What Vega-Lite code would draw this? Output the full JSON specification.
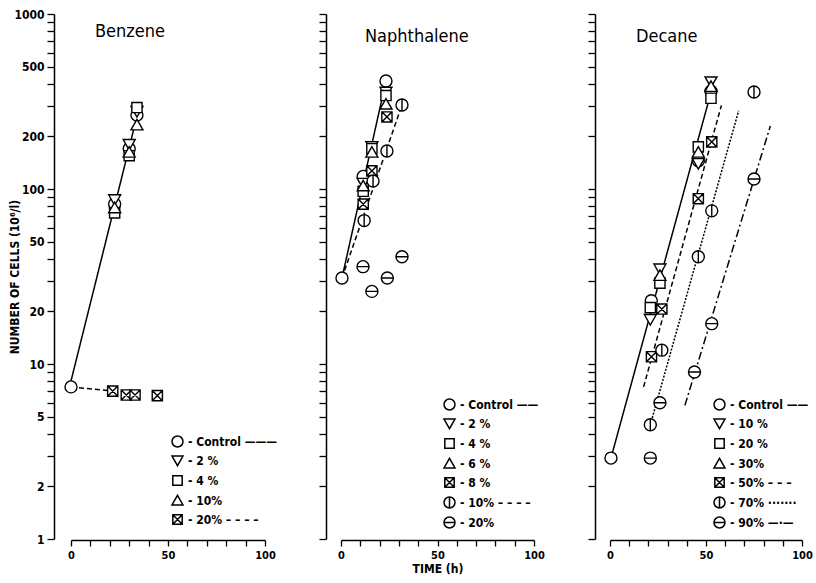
{
  "$schema": "https://vega.github.io/schema/vega-lite/v6.json",
  "background": "white",
  "padding": {"left": 8, "top": 8, "right": 3, "bottom": 5},
  "datasets": {
    "points": [
      {"panel": "Benzene", "series": "Control", "t": 0, "n": 7.4},
      {"panel": "Benzene", "series": "Control", "t": 22.5, "n": 82},
      {"panel": "Benzene", "series": "Control", "t": 30, "n": 170},
      {"panel": "Benzene", "series": "Control", "t": 34, "n": 265},
      {"panel": "Benzene", "series": "2 %", "t": 22.5, "n": 87},
      {"panel": "Benzene", "series": "2 %", "t": 30, "n": 180},
      {"panel": "Benzene", "series": "2 %", "t": 34, "n": 278},
      {"panel": "Benzene", "series": "4 %", "t": 22.5, "n": 73},
      {"panel": "Benzene", "series": "4 %", "t": 30, "n": 155},
      {"panel": "Benzene", "series": "4 %", "t": 34, "n": 292},
      {"panel": "Benzene", "series": "10%", "t": 22.5, "n": 78},
      {"panel": "Benzene", "series": "10%", "t": 30, "n": 162},
      {"panel": "Benzene", "series": "10%", "t": 34, "n": 232},
      {"panel": "Benzene", "series": "20%", "t": 21.5, "n": 7.0},
      {"panel": "Benzene", "series": "20%", "t": 28.5, "n": 6.65},
      {"panel": "Benzene", "series": "20%", "t": 33, "n": 6.65},
      {"panel": "Benzene", "series": "20%", "t": 44.5, "n": 6.6},

      {"panel": "Naphthalene", "series": "Control", "t": 0.5, "n": 31},
      {"panel": "Naphthalene", "series": "Control", "t": 11.5, "n": 118},
      {"panel": "Naphthalene", "series": "Control", "t": 23.3, "n": 414},
      {"panel": "Naphthalene", "series": "2 %", "t": 11.5, "n": 108},
      {"panel": "Naphthalene", "series": "2 %", "t": 16, "n": 175},
      {"panel": "Naphthalene", "series": "2 %", "t": 23.3, "n": 358},
      {"panel": "Naphthalene", "series": "4 %", "t": 11.5, "n": 97},
      {"panel": "Naphthalene", "series": "4 %", "t": 16, "n": 170},
      {"panel": "Naphthalene", "series": "4 %", "t": 23.3, "n": 342},
      {"panel": "Naphthalene", "series": "6 %", "t": 11.5, "n": 104},
      {"panel": "Naphthalene", "series": "6 %", "t": 16, "n": 162},
      {"panel": "Naphthalene", "series": "6 %", "t": 23.3, "n": 305},
      {"panel": "Naphthalene", "series": "8 %", "t": 11.5, "n": 82},
      {"panel": "Naphthalene", "series": "8 %", "t": 16, "n": 127},
      {"panel": "Naphthalene", "series": "8 %", "t": 23.8, "n": 258},
      {"panel": "Naphthalene", "series": "10%", "t": 12, "n": 66},
      {"panel": "Naphthalene", "series": "10%", "t": 16.6, "n": 111},
      {"panel": "Naphthalene", "series": "10%", "t": 23.8, "n": 165},
      {"panel": "Naphthalene", "series": "10%", "t": 31.6, "n": 302},
      {"panel": "Naphthalene", "series": "20%", "t": 11.4, "n": 36},
      {"panel": "Naphthalene", "series": "20%", "t": 16, "n": 26},
      {"panel": "Naphthalene", "series": "20%", "t": 24, "n": 31},
      {"panel": "Naphthalene", "series": "20%", "t": 31.6, "n": 41},

      {"panel": "Decane", "series": "Control", "t": 0.5, "n": 2.9},
      {"panel": "Decane", "series": "Control", "t": 21.5, "n": 23},
      {"panel": "Decane", "series": "Control", "t": 46, "n": 145},
      {"panel": "Decane", "series": "Control", "t": 52.6, "n": 362},
      {"panel": "Decane", "series": "10 %", "t": 21, "n": 18},
      {"panel": "Decane", "series": "10 %", "t": 26, "n": 35},
      {"panel": "Decane", "series": "10 %", "t": 46, "n": 140},
      {"panel": "Decane", "series": "10 %", "t": 52.6, "n": 410},
      {"panel": "Decane", "series": "20 %", "t": 21, "n": 21},
      {"panel": "Decane", "series": "20 %", "t": 26, "n": 29},
      {"panel": "Decane", "series": "20 %", "t": 46, "n": 174},
      {"panel": "Decane", "series": "20 %", "t": 52.6, "n": 330},
      {"panel": "Decane", "series": "30%", "t": 26, "n": 32},
      {"panel": "Decane", "series": "30%", "t": 46, "n": 162},
      {"panel": "Decane", "series": "30%", "t": 52.6, "n": 385},
      {"panel": "Decane", "series": "50%", "t": 21.6, "n": 11},
      {"panel": "Decane", "series": "50%", "t": 27, "n": 20.6},
      {"panel": "Decane", "series": "50%", "t": 46, "n": 88},
      {"panel": "Decane", "series": "50%", "t": 53, "n": 186},
      {"panel": "Decane", "series": "70%", "t": 21, "n": 4.5},
      {"panel": "Decane", "series": "70%", "t": 27, "n": 12},
      {"panel": "Decane", "series": "70%", "t": 46, "n": 41},
      {"panel": "Decane", "series": "70%", "t": 53, "n": 75},
      {"panel": "Decane", "series": "70%", "t": 75, "n": 358},
      {"panel": "Decane", "series": "90%", "t": 21, "n": 2.9},
      {"panel": "Decane", "series": "90%", "t": 26, "n": 6},
      {"panel": "Decane", "series": "90%", "t": 44, "n": 9},
      {"panel": "Decane", "series": "90%", "t": 53, "n": 17},
      {"panel": "Decane", "series": "90%", "t": 75, "n": 114}
    ],
    "lines": [
      {"panel": "Benzene", "series": "Control", "t": 0, "n": 8.0},
      {"panel": "Benzene", "series": "Control", "t": 34, "n": 260},
      {"panel": "Benzene", "series": "20%", "t": 0, "n": 7.4},
      {"panel": "Benzene", "series": "20%", "t": 21.5, "n": 7.0},
      {"panel": "Naphthalene", "series": "Control", "t": 0.5, "n": 31},
      {"panel": "Naphthalene", "series": "Control", "t": 23.3, "n": 414},
      {"panel": "Naphthalene", "series": "10%", "t": 0.5, "n": 31},
      {"panel": "Naphthalene", "series": "10%", "t": 31.6, "n": 302},
      {"panel": "Decane", "series": "Control", "t": 0.5, "n": 2.9},
      {"panel": "Decane", "series": "Control", "t": 53, "n": 370},
      {"panel": "Decane", "series": "50%", "t": 17.5, "n": 7.4},
      {"panel": "Decane", "series": "50%", "t": 58, "n": 300},
      {"panel": "Decane", "series": "70%", "t": 21, "n": 4.5},
      {"panel": "Decane", "series": "70%", "t": 67, "n": 280},
      {"panel": "Decane", "series": "90%", "t": 39, "n": 5.8},
      {"panel": "Decane", "series": "90%", "t": 83.5, "n": 229}
    ]
  },
  "spacing": 76,
  "bounds": "flush",
  "config": {
    "view": {"stroke": null},
    "font": "DejaVu Sans Condensed, Liberation Sans Narrow, DejaVu Sans, sans-serif",
    "axis": {
      "grid": false,
      "domainColor": "black",
      "domainWidth": 1.5,
      "tickColor": "black",
      "tickWidth": 1.3,
      "labelColor": "black",
      "labelFontWeight": "bold",
      "labelFontSize": 12,
      "labelOverlap": false,
      "labelFlush": false,
      "titleColor": "black",
      "titleFontWeight": "bold",
      "titleFontSize": 12
    },
    "legend": {
      "orient": "none",
      "title": null,
      "symbolSize": 121,
      "labelFontSize": 12,
      "labelFontWeight": "bold",
      "labelColor": "black",
      "rowPadding": 3,
      "labelOffset": 4,
      "padding": 0
    },
    "title": {"fontSize": 18, "fontWeight": "normal", "color": "black", "anchor": "start", "frame": "group"}
  },
  "resolve": {
    "scale": {"shape": "independent", "strokeDash": "independent", "x": "independent", "y": "independent"},
    "legend": {"shape": "independent", "strokeDash": "independent"}
  },
  "hconcat": [
    {
      "width": 194,
      "height": 525,
      "title": {"text": "Benzene", "dx": 24, "offset": -33},
      "encoding": {
        "x": {"field": "t", "type": "quantitative", "scale": {"domain": [0, 100], "nice": false},
          "axis": {"values": [0, 10, 20, 30, 40, 50, 60, 70, 80, 90, 100], "labelExpr": "datum.value == 0 || datum.value == 50 || datum.value == 100 ? datum.label : ''", "tickSize": 6, "title": null, "offset": 1, "labelPadding": 3, "labelFontSize": 11}},
        "y": {"field": "n", "type": "quantitative", "scale": {"type": "log", "domain": [1, 1000], "nice": false},
          "axis": {"values": [1, 2, 3, 4, 5, 6, 7, 8, 9, 10, 20, 30, 40, 50, 60, 70, 80, 90, 100, 200, 300, 400, 500, 600, 700, 800, 900, 1000], "format": "d", "labelExpr": "indexof([1, 2, 5, 10, 20, 50, 100, 200, 500, 1000], datum.value) >= 0 ? datum.label : ''", "tickSize": 7, "offset": 17, "labelPadding": 3, "title": "NUMBER OF CELLS (10⁶/l)", "titlePadding": -8}}
      },
      "layer": [
        {
          "data": {"name": "lines"},
          "transform": [{"filter": "datum.panel == 'Benzene'"}],
          "mark": {"type": "line", "color": "black", "strokeWidth": 1.5},
          "encoding": {
            "detail": {"field": "series"},
            "strokeDash": {"field": "series", "scale": {"domain": ["Control", "20%"], "range": [[1, 0], [5, 3]]}, "legend": null}
          }
        },
        {
          "data": {"name": "points"},
          "transform": [{"filter": "datum.panel == 'Benzene'"}],
          "mark": {"type": "point", "filled": true, "fill": "white", "stroke": "black", "strokeWidth": 1.4, "size": 144, "opacity": 1},
          "encoding": {
            "shape": {"field": "series", "scale": {"domain": ["Control", "2 %", "4 %", "10%", "20%"], "range": [
              "M1,0A1,1,0,1,1,-1,0A1,1,0,1,1,1,0Z",
              "M-1,-0.8L1,-0.8L0,0.95Z",
              "M-0.85,-0.85L0.85,-0.85L0.85,0.85L-0.85,0.85Z",
              "M-1,0.8L1,0.8L0,-0.95Z",
              "M-0.85,-0.85L0.85,-0.85L0.85,0.85L-0.85,0.85ZM-0.85,-0.85L0.85,0.85M0.85,-0.85L-0.85,0.85"]},
              "legend": {"legendX": 100, "legendY": 421,
                "labelExpr": "'- ' + datum.label + (datum.label == 'Control' ? '  ———' : datum.label == '20%' ? '   – – – –' : '')",
                "encode": {"symbols": {"update": {"fill": {"value": "white"}, "stroke": {"value": "black"}, "strokeWidth": {"value": 1.4}, "opacity": {"value": 1}}}}}}
          }
        }
      ]
    },
    {
      "width": 193,
      "height": 525,
      "title": {"text": "Naphthalene", "dx": 24, "offset": -33},
      "encoding": {
        "x": {"field": "t", "type": "quantitative", "scale": {"domain": [0, 100], "nice": false},
          "axis": {"values": [0, 10, 20, 30, 40, 50, 60, 70, 80, 90, 100], "labelExpr": "datum.value == 0 || datum.value == 50 || datum.value == 100 ? datum.label : ''", "tickSize": 6, "title": "TIME (h)", "titlePadding": 3, "offset": 1, "labelPadding": 3, "labelFontSize": 11}},
        "y": {"field": "n", "type": "quantitative", "scale": {"type": "log", "domain": [1, 1000], "nice": false},
          "axis": {"values": [1, 2, 3, 4, 5, 6, 7, 8, 9, 10, 20, 30, 40, 50, 60, 70, 80, 90, 100, 200, 300, 400, 500, 600, 700, 800, 900, 1000], "labels": false, "tickSize": 7, "offset": 15, "title": null}}
      },
      "layer": [
        {
          "data": {"name": "lines"},
          "transform": [{"filter": "datum.panel == 'Naphthalene'"}],
          "mark": {"type": "line", "color": "black", "strokeWidth": 1.5},
          "encoding": {
            "detail": {"field": "series"},
            "strokeDash": {"field": "series", "scale": {"domain": ["Control", "10%"], "range": [[1, 0], [5, 3]]}, "legend": null}
          }
        },
        {
          "data": {"name": "points"},
          "transform": [{"filter": "datum.panel == 'Naphthalene'"}],
          "mark": {"type": "point", "filled": true, "fill": "white", "stroke": "black", "strokeWidth": 1.4, "size": 144, "opacity": 1},
          "encoding": {
            "shape": {"field": "series", "scale": {"domain": ["Control", "2 %", "4 %", "6 %", "8 %", "10%", "20%"], "range": [
              "M1,0A1,1,0,1,1,-1,0A1,1,0,1,1,1,0Z",
              "M-1,-0.8L1,-0.8L0,0.95Z",
              "M-0.85,-0.85L0.85,-0.85L0.85,0.85L-0.85,0.85Z",
              "M-1,0.8L1,0.8L0,-0.95Z",
              "M-0.85,-0.85L0.85,-0.85L0.85,0.85L-0.85,0.85ZM-0.85,-0.85L0.85,0.85M0.85,-0.85L-0.85,0.85",
              "M1,0A1,1,0,1,1,-1,0A1,1,0,1,1,1,0ZM0,-1L0,1",
              "M1,0A1,1,0,1,1,-1,0A1,1,0,1,1,1,0ZM-1,0L1,0"]},
              "legend": {"legendX": 102, "legendY": 384,
                "labelExpr": "'- ' + datum.label + (datum.label == 'Control' ? '  ——' : datum.label == '10%' ? '    – – – –' : '')",
                "encode": {"symbols": {"update": {"fill": {"value": "white"}, "stroke": {"value": "black"}, "strokeWidth": {"value": 1.4}, "opacity": {"value": 1}}}}}}
          }
        }
      ]
    },
    {
      "width": 192,
      "height": 525,
      "title": {"text": "Decane", "dx": 26, "offset": -33},
      "encoding": {
        "x": {"field": "t", "type": "quantitative", "scale": {"domain": [0, 100], "nice": false},
          "axis": {"values": [0, 10, 20, 30, 40, 50, 60, 70, 80, 90, 100], "labelExpr": "datum.value == 0 || datum.value == 50 || datum.value == 100 ? datum.label : ''", "tickSize": 6, "title": null, "offset": 1, "labelPadding": 3, "labelFontSize": 11}},
        "y": {"field": "n", "type": "quantitative", "scale": {"type": "log", "domain": [1, 1000], "nice": false},
          "axis": {"values": [1, 2, 3, 4, 5, 6, 7, 8, 9, 10, 20, 30, 40, 50, 60, 70, 80, 90, 100, 200, 300, 400, 500, 600, 700, 800, 900, 1000], "labels": false, "tickSize": 7, "offset": 15, "title": null}}
      },
      "layer": [
        {
          "data": {"name": "lines"},
          "transform": [{"filter": "datum.panel == 'Decane'"}],
          "mark": {"type": "line", "color": "black", "strokeWidth": 1.5},
          "encoding": {
            "detail": {"field": "series"},
            "strokeDash": {"field": "series", "scale": {"domain": ["Control", "50%", "70%", "90%"], "range": [[1, 0], [5, 3], [2, 1.5], [8, 3, 2, 3]]}, "legend": null}
          }
        },
        {
          "data": {"name": "points"},
          "transform": [{"filter": "datum.panel == 'Decane'"}],
          "mark": {"type": "point", "filled": true, "fill": "white", "stroke": "black", "strokeWidth": 1.4, "size": 144, "opacity": 1},
          "encoding": {
            "shape": {"field": "series", "scale": {"domain": ["Control", "10 %", "20 %", "30%", "50%", "70%", "90%"], "range": [
              "M1,0A1,1,0,1,1,-1,0A1,1,0,1,1,1,0Z",
              "M-1,-0.8L1,-0.8L0,0.95Z",
              "M-0.85,-0.85L0.85,-0.85L0.85,0.85L-0.85,0.85Z",
              "M-1,0.8L1,0.8L0,-0.95Z",
              "M-0.85,-0.85L0.85,-0.85L0.85,0.85L-0.85,0.85ZM-0.85,-0.85L0.85,0.85M0.85,-0.85L-0.85,0.85",
              "M1,0A1,1,0,1,1,-1,0A1,1,0,1,1,1,0ZM0,-1L0,1",
              "M1,0A1,1,0,1,1,-1,0A1,1,0,1,1,1,0ZM-1,0L1,0"]},
              "legend": {"legendX": 103, "legendY": 384,
                "labelExpr": "'- ' + datum.label + (datum.label == 'Control' ? ' ——' : datum.label == '50%' ? ' – – –' : datum.label == '70%' ? ' ·······' : datum.label == '90%' ? ' —·—' : '')",
                "encode": {"symbols": {"update": {"fill": {"value": "white"}, "stroke": {"value": "black"}, "strokeWidth": {"value": 1.4}, "opacity": {"value": 1}}}}}}
          }
        }
      ]
    }
  ]
}
